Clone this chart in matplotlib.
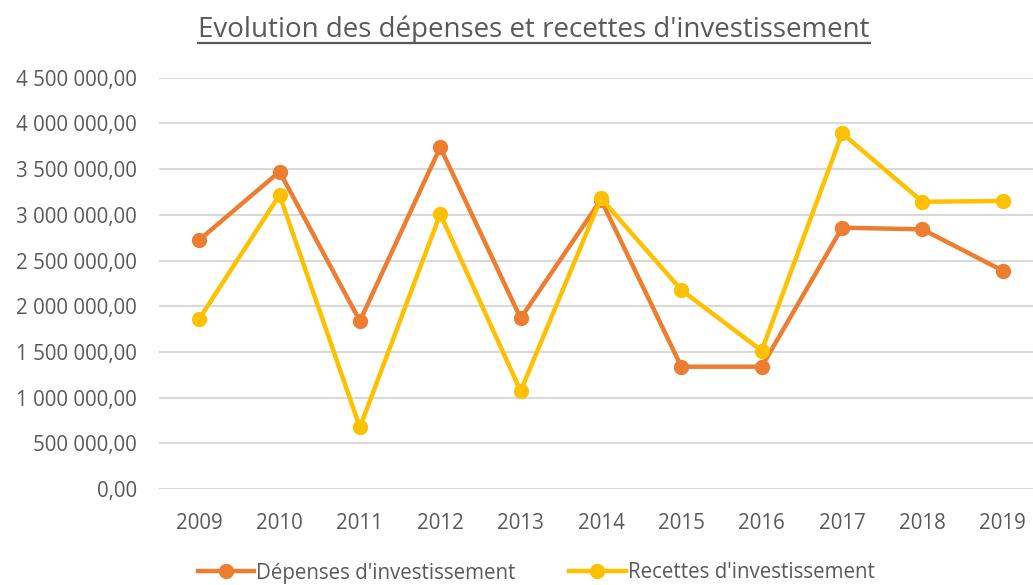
import matplotlib
matplotlib.use("Agg")
import matplotlib.pyplot as plt
from matplotlib.lines import Line2D
from matplotlib.ticker import FuncFormatter

years = ["2009", "2010", "2011", "2012", "2013", "2014", "2015", "2016", "2017", "2018", "2019"]
depenses = [2724000, 3472000, 1838000, 3739000, 1868000, 3165000, 1338000, 1338000, 2859000, 2841000, 2388000]
recettes = [1860000, 3217000, 675000, 3009000, 1072000, 3181000, 2177000, 1513000, 3892000, 3143000, 3151000]
series_names = ["Dépenses d'investissement", "Recettes d'investissement"]
title = "Evolution des dépenses et recettes d'investissement"

ORANGE = "#ED7D31"
YELLOW = "#FFC000"
GREY = "#595959"
GRID = "#D9D9D9"

FONT = ["Open Sans", "DejaVu Sans"]
plt.rcParams['font.family'] = FONT

W, H = 1033, 585
fig = plt.figure(figsize=(W / 100, H / 100), dpi=100)
left, right = 159 / W, 1043 / W
bottom, top = 1 - 489 / H, 1 - 77.7 / H
ax = fig.add_axes([left, bottom, right - left, top - bottom])

x = list(range(len(years)))
ax.plot(x, depenses, color=ORANGE, lw=3.2, marker="o", ms=10, label=series_names[0], solid_joinstyle="round", zorder=3)
ax.plot(x, recettes, color=YELLOW, lw=3.2, marker="o", ms=10, label=series_names[1], solid_joinstyle="round", zorder=3)

ax.set_xlim(-0.5, len(years) - 0.5)
ax.set_ylim(0, 4500000)
ax.set_yticks([i * 500000 for i in range(10)])
ax.set_xticks(x)
ax.set_xticklabels(years)

def fmt(v, pos):
    s = f"{v:,.2f}".replace(",", " ").replace(".", ",")
    return s
ax.yaxis.set_major_formatter(FuncFormatter(fmt))

ax.grid(axis="y", color=GRID, lw=1.5)
ax.set_axisbelow(True)
for s in ax.spines.values():
    s.set_visible(False)
ax.tick_params(axis="both", length=0, colors=GREY, labelsize=14.8)
ax.tick_params(axis="y", pad=16)
ax.tick_params(axis="x", pad=17)

t = fig.text(534 / W, 1 - 37 / H, title, ha="center", va="baseline", fontsize=20, color=GREY)
fig.canvas.draw()
bb = t.get_window_extent()
yline = 1 - 42.5 / H
fig.add_artist(Line2D([bb.x0 / W, bb.x1 / W], [yline, yline], color=GREY, lw=1.6, transform=fig.transFigure))

handles = [Line2D([], [], color=ORANGE, lw=3.2, marker="o", ms=10),
           Line2D([], [], color=YELLOW, lw=3.2, marker="o", ms=10)]
fig.legend(handles, series_names, loc="center", bbox_to_anchor=(536 / W, 1 - 573 / H), ncol=2,
           frameon=False, fontsize=14.8, labelcolor=GREY, handlelength=2.75, handletextpad=0.1,
           columnspacing=2.6, borderpad=0, borderaxespad=0)

fig.savefig("out.png", dpi=100)
